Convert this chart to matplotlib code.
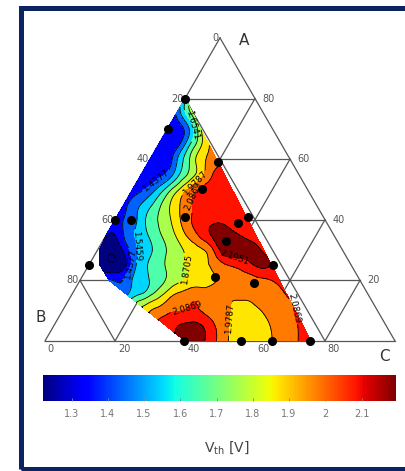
import numpy as np
import matplotlib
matplotlib.use('Agg')
import matplotlib.pyplot as plt
import matplotlib.tri as mtri
from matplotlib.patches import Rectangle
from matplotlib.colors import Normalize
from matplotlib.cm import ScalarMappable

# measured compositions (A %, C %) -> black dots
dot_A = [80, 70, 59, 50, 41, 41, 39, 40, 40, 33, 25, 25, 21, 19, 0, 0, 0, 0]
dot_C = [0, 0, 20, 20, 19.6, 37.5, 35.7, 0, 4.6, 35.2, 52.7, 0, 38.2, 50.2, 39.6, 55.9, 64.8, 75.8]

# Vth, row by row (A %), C % positions and values [V]
rows_A = [80, 75, 70, 65, 60, 55, 50, 45, 40, 35, 30, 25, 20, 15, 10, 5, 0]
rows_C = [
    [0],
    [0, 2, 4.75],
    [0, 2.5, 5, 7.5, 9.5],
    [0, 2.5, 5, 7.5, 10, 12.5, 14.25],
    [0, 2.5, 5, 7.5, 10, 12.5, 15, 19],
    [0, 2.5, 5, 7.5, 10, 12.5, 15, 17.5, 20, 23.75],
    [0, 2.5, 5, 7.5, 10, 12.5, 15, 17.5, 20, 25, 28.5],
    [0, 2.5, 5, 7.5, 10, 12.5, 15, 17.5, 20, 25, 30, 33.25],
    [0, 2.5, 5, 7.5, 10, 12.5, 15, 17.5, 20, 22.5, 25, 30, 35, 38],
    [0, 2.5, 5, 7.5, 10, 12.5, 15, 17.5, 20, 22.5, 25, 27.5, 30, 35, 40, 42.75],
    [0.5, 2.5, 5, 7.5, 10, 12.5, 15, 17.5, 20, 22.5, 25, 27.5, 30, 32.5, 35, 40, 45, 47.5],
    [3.2, 5, 7.5, 10, 12.5, 15, 17.5, 20, 22.5, 25, 27.5, 30, 32.5, 35, 40, 45, 50, 52.25],
    [8.3, 10, 12.5, 15, 20, 25, 30, 35, 40, 45, 50, 55, 57],
    [16.2, 20, 22.5, 25, 27.5, 30, 35, 40, 45, 50, 55, 61.75],
    [24.15, 27.5, 30, 35, 40, 45, 50, 55, 60, 66.5],
    [32.1, 35, 40, 45, 50, 55, 60, 65, 71.25],
    [40, 45, 50, 55, 60, 65, 70, 76],
]
rows_v = [
    [1.62],
    [1.45, 1.60, 1.80],
    [1.42, 1.36, 1.46, 1.66, 1.86],
    [1.41, 1.35, 1.38, 1.54, 1.72, 1.88, 1.97],
    [1.40, 1.35, 1.37, 1.52, 1.68, 1.84, 1.95, 2.05],
    [1.38, 1.35, 1.40, 1.46, 1.60, 1.73, 1.85, 1.96, 2.07, 2.12],
    [1.38, 1.42, 1.48, 1.58, 1.70, 1.83, 1.95, 2.05, 2.12, 2.16, 2.14],
    [1.40, 1.48, 1.55, 1.63, 1.73, 1.84, 1.94, 2.03, 2.10, 2.16, 2.17, 2.14],
    [1.40, 1.44, 1.50, 1.60, 1.70, 1.77, 1.84, 1.93, 2.03, 2.10, 2.14, 2.18, 2.14, 2.12],
    [1.34, 1.33, 1.44, 1.53, 1.60, 1.67, 1.74, 1.81, 1.88, 1.97, 2.05, 2.13, 2.20, 2.24, 2.17, 2.14],
    [1.28, 1.25, 1.25, 1.35, 1.48, 1.58, 1.64, 1.70, 1.77, 1.83, 1.88, 1.93, 1.97, 2.05, 2.20, 2.25, 2.23, 2.17],
    [1.27, 1.25, 1.24, 1.30, 1.48, 1.60, 1.67, 1.72, 1.78, 1.83, 1.87, 1.92, 1.95, 1.99, 2.09, 2.15, 2.22, 2.19],
    [1.45, 1.43, 1.45, 1.55, 1.66, 1.78, 1.88, 1.93, 1.99, 2.03, 2.05, 2.09, 2.12],
    [1.56, 1.68, 1.76, 1.84, 1.93, 2.00, 2.06, 2.03, 1.99, 1.99, 2.02, 2.09],
    [1.95, 2.02, 2.06, 2.09, 2.08, 2.02, 1.96, 1.96, 2.02, 2.09],
    [2.15, 2.19, 2.23, 2.12, 1.98, 1.92, 1.95, 2.03, 2.10],
    [2.22, 2.21, 2.05, 1.93, 1.92, 1.98, 2.06, 2.12],
]

levels = [1.2213, 1.3295, 1.4377, 1.5459, 1.6541, 1.7623, 1.8705, 1.9787, 2.0869, 2.1951]
ticks = [0, 20, 40, 60, 80]
cbar_ticks = [1.3, 1.4, 1.5, 1.6, 1.7, 1.8, 1.9, 2.0, 2.1]


def tern(A, C):
    # A at top, B bottom-left, C bottom-right (side = 100)
    A = np.asarray(A, dtype=float)
    C = np.asarray(C, dtype=float)
    return C + A / 2.0, A * np.sqrt(3) / 2.0


# gather the samples
sA, sC, sV = [], [], []
for a, cs, vs in zip(rows_A, rows_C, rows_v):
    for c, v in zip(cs, vs):
        sA.append(a)
        sC.append(c)
        sV.append(v)
su, sv = tern(sA, sC)

fig = plt.figure(figsize=(4.05, 4.71), dpi=100)
ax = fig.add_axes([0, 0, 1, 1])
s = 3.5  # px per unit
ax.set_xlim(-45 / s, (405 - 45) / s)
ax.set_ylim((341 - 471) / s, 341 / s)
ax.axis('off')

# frame
fig.patches.append(Rectangle((20.5 / 405, 2 / 471), 1.05, 1 - 9.5 / 471,
                             transform=fig.transFigure, fill=False,
                             edgecolor='#0b2461', linewidth=3.6))

# triangle grid
gcol = '#555555'
for k in ticks:
    x, y = tern([k, k], [0, 100 - k])           # const A
    ax.plot(x, y, color=gcol, lw=0.9, zorder=1)
    x, y = tern([0, 100 - k], [100 - k, 0])     # const B
    ax.plot(x, y, color=gcol, lw=0.9, zorder=1)
    x, y = tern([0, 100 - k], [k, k])           # const C
    ax.plot(x, y, color=gcol, lw=0.9, zorder=1)

# filled contours
cmap = plt.get_cmap('jet')
norm = Normalize(levels[0], levels[-1])
fill_levels = [0.0] + levels + [9.9]
band_colors = [cmap(0.0)] + [cmap(norm(l)) for l in levels]

tri = mtri.Triangulation(su, sv)
refiner = mtri.UniformTriRefiner(tri)
tri_r, z_r = refiner.refine_field(np.array(sV), subdiv=3)
ax.tricontourf(tri_r, z_r, levels=fill_levels, colors=band_colors, zorder=2)
cl = ax.tricontour(tri_r, z_r, levels=levels, colors='k', linewidths=0.6, zorder=3)

lab_px = [(193, 125), (150, 175), (195, 184), (203, 200), (140, 245), (133, 265),
          (186, 270), (235, 252), (190, 313), (245, 320), (282, 310)]
lab_pos = [((px - 45) / s, (341 - py) / s) for px, py in lab_px]
ax.clabel(cl, fmt='%.4f', fontsize=6.3, inline=True, inline_spacing=2, manual=lab_pos)

# measurement points
du, dv = tern(dot_A, dot_C)
ax.plot(du, dv, 'o', color='k', ms=5.5, zorder=5, clip_on=False)

# tick labels
tcol = '#555555'
for t in ticks:
    x, y = tern(100 - t, 0)           # left edge, B
    ax.text(x - 0.3, y, str(t), ha='right', va='center', fontsize=7, color=tcol)
    if t > 0:
        x, y = tern(t, 100 - t)       # right edge, A
        ax.text(x + 2.2, y, str(t), ha='left', va='center', fontsize=7, color=tcol)
    x, y = tern(0, t)                 # bottom, C
    ax.text(x + 0.8, y - 1.0, str(t), ha='left', va='top', fontsize=7, color=tcol)

ax.text(56.9, 86.0, 'A', ha='center', va='center', fontsize=11, color='#333333')
ax.text(-1.1, 6.6, 'B', ha='center', va='center', fontsize=11, color='#333333')
ax.text(97.1, -4.3, 'C', ha='center', va='center', fontsize=11, color='#333333')

# colorbar
cax = fig.add_axes([43 / 405, (471 - 401) / 471, 353 / 405, 26 / 471])
cb = fig.colorbar(ScalarMappable(norm=norm, cmap=cmap), cax=cax, orientation='horizontal')
cb.set_ticks(cbar_ticks)
cb.set_ticklabels(['%g' % t for t in cbar_ticks])
cb.outline.set_visible(False)
cax.tick_params(direction='in', length=2, width=0.6, color='#888888',
                labelsize=7, labelcolor='#777777', pad=6)
fig.text(227 / 405, 1 - 448 / 471, 'V$_{\\mathregular{th}}$ [V]', ha='center', va='center',
         fontsize=10, color='#444444')

fig.savefig('out.png', dpi=100)
